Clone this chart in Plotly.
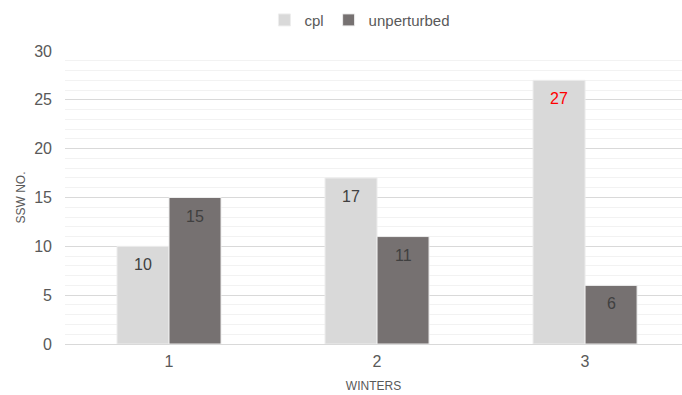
import plotly.graph_objects as go

winters = ["1", "2", "3"]
cpl = [10, 17, 27]
unperturbed = [15, 11, 6]
cpl_label_colors = ["#404040", "#404040", "#ff0000"]
unperturbed_label_colors = ["#404040", "#404040", "#404040"]
y_ticks = [0, 5, 10, 15, 20, 25, 30]

x_pos = list(range(len(winters)))
BAR_GAP = 0.5
bar_w = (1 - BAR_GAP) / 2  # two bars share each group

fig = go.Figure()
fig.add_trace(go.Bar(
    name="cpl", x=x_pos, y=cpl,
    marker=dict(color="#d9d9d9", line=dict(color="#ededed", width=1)),
))
fig.add_trace(go.Bar(
    name="unperturbed", x=x_pos, y=unperturbed,
    marker=dict(color="#767171", line=dict(color="#ededed", width=1)),
))

# value labels sitting just inside the top of each bar
for series, colors, offset in [(cpl, cpl_label_colors, -bar_w / 2),
                               (unperturbed, unperturbed_label_colors, bar_w / 2)]:
    for xi, v, c in zip(x_pos, series, colors):
        fig.add_annotation(
            x=xi + offset, y=v, text=str(v), showarrow=False,
            xanchor="center", yanchor="top", yshift=-8,
            font=dict(size=16, color=c, family="Liberation Sans"),
        )

fig.update_layout(
    width=682, height=395,
    margin=dict(l=65, r=0, t=51, b=51, autoexpand=False),
    paper_bgcolor="white", plot_bgcolor="white",
    barmode="group", bargap=BAR_GAP, bargroupgap=0,
    font=dict(family="Liberation Sans", color="#595959"),
    legend=dict(orientation="h", x=0.478, xanchor="center",
                yref="container", y=0.949, yanchor="middle",
                font=dict(size=15, color="#595959"), itemwidth=30, traceorder="normal"),
    showlegend=True,
)
fig.update_xaxes(
    tickmode="array", tickvals=x_pos, ticktext=winters,
    range=[-0.5, 2.466], showgrid=False, zeroline=False,
    showline=True, linecolor="#d9d9d9", linewidth=1,
    tickfont=dict(size=16, color="#595959"), ticks="", ticklabelstandoff=3,
    title=dict(text="WINTERS", font=dict(size=12, color="#595959"), standoff=12),
)
fig.update_yaxes(
    range=[0, 30], tickvals=y_ticks, zeroline=False,
    showgrid=True, gridcolor="#d9d9d9", gridwidth=1,
    minor=dict(dtick=1, showgrid=True, gridcolor="#f2f2f2", gridwidth=1),
    tickfont=dict(size=16, color="#595959"), ticks="", ticklabelstandoff=12,
    title=dict(text="SSW NO.", font=dict(size=12, color="#595959"), standoff=6),
)

fig.write_html("out.html")
